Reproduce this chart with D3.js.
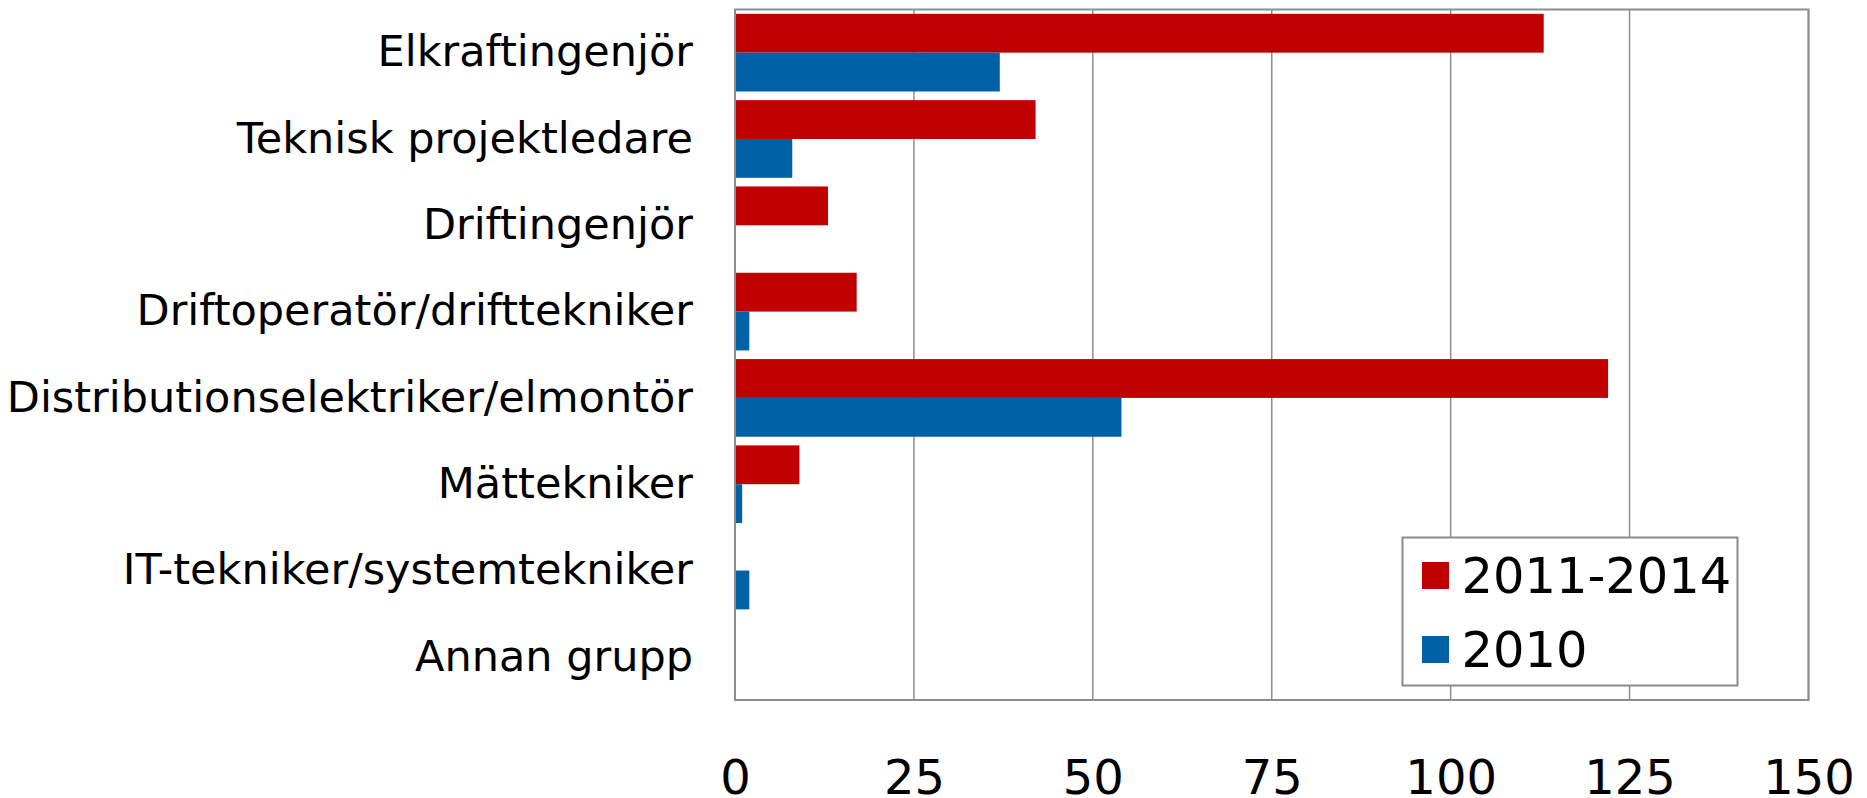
<!DOCTYPE html>
<html>
<head>
<meta charset="utf-8">
<script src="https://cdn.jsdelivr.net/npm/d3@7"></script>
<style>
	body { margin: 0; background: #fff; }
	svg text { font-family: "DejaVu Sans", Verdana, sans-serif; fill: #000; }
</style>
</head>
<body>
<svg id="chart" width="1867" height="798"></svg>
<script>
	//chart data
var categories = [
	'Elkraftingenjör',
	'Teknisk projektledare',
	'Driftingenjör',
	'Driftoperatör/drifttekniker',
	'Distributionselektriker/elmontör',
	'Mättekniker',
	'IT-tekniker/systemtekniker',
	'Annan grupp'
];
var values20112014 = [113, 42, 13, 17, 122, 9, 0, 0];
var values2010 = [37, 8, 0, 2, 54, 1, 2, 0];
var seriesNames = ['2011-2014', '2010'];
var seriesColors = ['#c00000', '#0061a6'];
var xTicks = [0, 25, 50, 75, 100, 125, 150];

var svg = d3.select('#chart');
var margin = { top: 9.5, right: 58.5, bottom: 98, left: 735 };
var width = +svg.attr('width') - margin.left - margin.right;
var height = +svg.attr('height') - margin.top - margin.bottom;

var g = svg.append('g')
	.attr('transform', 'translate(' + margin.left + ',' + margin.top + ')');

var x = d3.scaleLinear().domain([0, 150]).range([0, width]);

var y = d3.scaleBand()
	.domain(categories)
	.range([0, height])
	.paddingInner(0.1)
	.paddingOuter(0.05);

var ySeries = d3.scaleBand()
	.domain(seriesNames)
	.range([0, y.bandwidth()]);

	//gridlines
g.selectAll('.grid')
	.data(xTicks.slice(1))
	.enter().append('line')
	.attr('x1', function(d) { return x(d); })
	.attr('x2', function(d) { return x(d); })
	.attr('y1', 0)
	.attr('y2', height)
	.attr('stroke', '#8c8c8c')
	.attr('stroke-width', 1.5);

	//plot frame
g.append('rect')
	.attr('x', 0)
	.attr('y', 0)
	.attr('width', width)
	.attr('height', height)
	.attr('fill', 'none')
	.attr('stroke', '#8c8c8c')
	.attr('stroke-width', 2);

	//bars
var rows = categories.map(function(c, i) {
	return { cat: c, vals: [values20112014[i], values2010[i]] };
});

var group = g.selectAll('.row')
	.data(rows)
	.enter().append('g')
	.attr('transform', function(d) { return 'translate(0,' + y(d.cat) + ')'; });

group.selectAll('rect')
	.data(function(d) {
		return d.vals.map(function(v, i) { return { name: seriesNames[i], value: v, color: seriesColors[i] }; });
	})
	.enter().append('rect')
	.attr('x', x(0))
	.attr('y', function(d) { return ySeries(d.name); })
	.attr('height', ySeries.bandwidth())
	.attr('width', function(d) { return x(d.value) - x(0); })
	.attr('fill', function(d) { return d.color; });

	//left axis line drawn above the bars
g.append('line')
	.attr('x1', 0).attr('x2', 0)
	.attr('y1', 0).attr('y2', height)
	.attr('stroke', '#8c8c8c')
	.attr('stroke-width', 2);

	//x axis labels
var xAxis = g.append('g')
	.attr('transform', 'translate(0,' + height + ')')
	.call(d3.axisBottom(x).tickValues(xTicks).tickSize(0).tickPadding(60));
xAxis.select('.domain').remove();
xAxis.selectAll('text')
	.style('font-size', '48px')
	.style('font-family', '"DejaVu Sans", Verdana, sans-serif')
	.attr('fill', '#000');

	//y axis labels
var yAxis = g.append('g')
	.call(d3.axisLeft(y).tickSize(0).tickPadding(42));
yAxis.select('.domain').remove();
yAxis.selectAll('text')
	.style('font-size', '43px')
	.style('font-family', '"DejaVu Sans", Verdana, sans-serif')
	.attr('fill', '#000');

	//legend
var legend = svg.append('g')
	.attr('transform', 'translate(1402.5,537.5)');

legend.append('rect')
	.attr('width', 335)
	.attr('height', 148)
	.attr('fill', '#fff')
	.attr('stroke', '#8c8c8c')
	.attr('stroke-width', 2);

var legendItem = legend.selectAll('.item')
	.data(seriesNames)
	.enter().append('g')
	.attr('transform', function(d, i) { return 'translate(0,' + (i * 74) + ')'; });

legendItem.append('rect')
	.attr('x', 19.5)
	.attr('y', 24.5)
	.attr('width', 27)
	.attr('height', 27)
	.attr('fill', function(d, i) { return seriesColors[i]; });

legendItem.append('text')
	.attr('x', 59)
	.attr('y', 55)
	.style('font-size', '49.5px')
	.text(function(d) { return d; });
</script>
</body>
</html>
